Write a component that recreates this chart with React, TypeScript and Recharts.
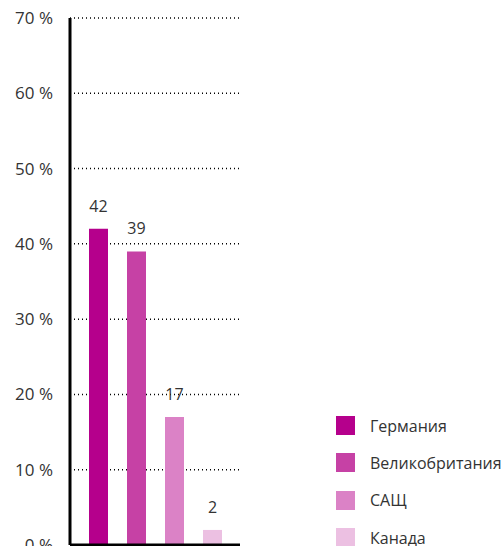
import React from "react";
import { BarChart, Bar, XAxis, YAxis, CartesianGrid, Cell, LabelList } from "recharts";

const countries = ["Германия", "Великобритания", "САЩ", "Канада"];
const shares = [42, 39, 17, 2];
const colors = ["#b5008c", "#c641a5", "#db82c6", "#ecc0e2"];
const yTicks = [0, 10, 20, 30, 40, 50, 60, 70];

const data = countries.map((name, i) => ({ name, value: shares[i] }));

const FONT = "'Open Sans', 'Noto Sans', sans-serif";

function CountryLegend() {
  return (
    <div style={{ position: "absolute", left: 336, top: 407, fontFamily: FONT }}>
      {countries.map((c, i) => (
        <div key={c} style={{ display: "flex", alignItems: "center", height: 37.3 }}>
          <div style={{ width: 19, height: 19, background: colors[i], marginRight: 15 }} />
          <span style={{ fontSize: 16, color: "#333" }}>{c}</span>
        </div>
      ))}
    </div>
  );
}

export default function App() {
  return (
    <div style={{ position: "absolute", left: 0, top: 0, width: 503, height: 546, overflow: "hidden", background: "#fff" }}>
      <BarChart
        width={503}
        height={560}
        data={data}
        margin={{ top: 18, right: 263, bottom: 14, left: 0 }}
      >
        <CartesianGrid vertical={false} stroke="#000" strokeDasharray="1 3" strokeWidth={1.5} />
        <XAxis
          dataKey="name"
          tick={false}
          tickLine={false}
          height={1}
          axisLine={{ stroke: "#000", strokeWidth: 3 }}
          padding={{ left: 9, right: 9 }}
        />
        <YAxis
          width={70}
          domain={[0, 70]}
          ticks={yTicks}
          interval={0}
          tickLine={false}
          tickSize={0}
          tickMargin={17}
          axisLine={{ stroke: "#000", strokeWidth: 3 }}
          tick={{ fontSize: 17, fill: "#333", fontFamily: FONT }}
          tickFormatter={(v: number) => `${v} %`}
        />
        <Bar dataKey="value" barSize={19} isAnimationActive={false}>
          {data.map((d, i) => (
            <Cell key={d.name} fill={colors[i]} />
          ))}
          <LabelList
            dataKey="value"
            position="top"
            offset={17}
            style={{ fontSize: 16, fill: "#333", fontFamily: FONT }}
          />
        </Bar>
      </BarChart>
      <CountryLegend />
    </div>
  );
}
